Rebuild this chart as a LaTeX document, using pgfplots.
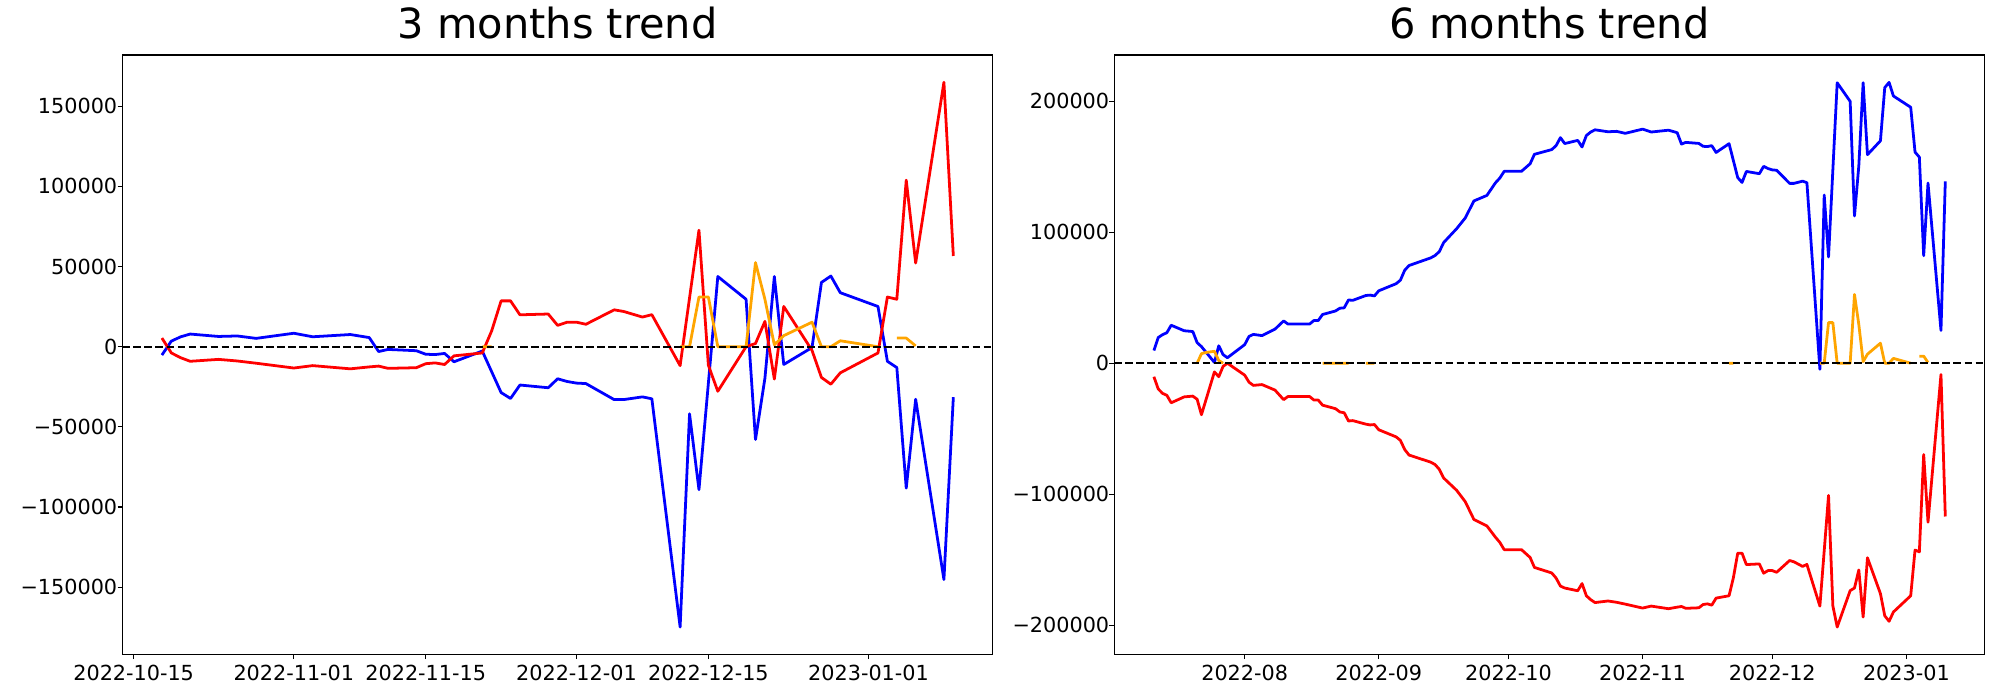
\documentclass[border=0pt]{standalone}
\usepackage{fontspec}
\setmainfont{DejaVu Sans}
\usepackage{pgfplots}
\pgfplotsset{compat=1.18}

\definecolor{mplorange}{RGB}{255,165,0}
\definecolor{mplblue}{RGB}{0,0,255}
\definecolor{mplred}{RGB}{255,0,0}

\pgfplotsset{
  trendaxis/.style={
    scale only axis, width=626.8bp, height=431.5bp,
    anchor=south west,
    axis line style={line width=0.8bp},
    tick align=outside, xtick pos=bottom, ytick pos=left,
    major tick length=3.5bp,
    every tick/.style={black, line width=0.8bp},
    tick label style={font=\fontsize{15}{18}\selectfont, inner sep=0pt},
    xticklabel style={anchor=north, yshift=-4bp},
    yticklabel style={anchor=east},
    scaled ticks=false,
    title style={at={(0.5,1)}, anchor=base, yshift=6bp, inner sep=0pt, font=\fontsize{30}{36}\selectfont},
    unbounded coords=jump,
  },
  trend/.style={line width=2bp, line join=round, mark=none},
  zeroline/.style={black, line width=1.5bp, dash pattern=on 5.55bp off 2.4bp, mark=none},
}

\begin{document}
\begin{tikzpicture}
\path[use as bounding box] (0,0) rectangle (1440bp,504bp);

% ---------------- 3 months trend ----------------
\begin{axis}[trendaxis,
  at={(88.1bp,32.9bp)},
  title={3 months trend},
  xmin=-79.2, xmax=13.2,
  ymin=-191900, ymax=182000,
  xtick={-78,-61,-47,-31,-17,0},
  xticklabels={2022-10-15,2022-11-01,2022-11-15,2022-12-01,2022-12-15,2023-01-01},
  ytick={-150000,-100000,-50000,0,50000,100000,150000},
  yticklabels={−150000,−100000,−50000,0,50000,100000,150000},
]
\addplot[trend, mplblue] coordinates {
(-75,-5200) (-74,3500) (-73,6200) (-72,7900) (-69,6400) (-67,6700) (-65,5200)
(-61,8400) (-59,6200) (-55,7600) (-53,5700) (-52,-3000) (-51,-1700) (-48,-2500)
(-47,-4700) (-46,-4900) (-45,-4200) (-44,-9400) (-41,-2700) (-39,-28600)
(-38,-32300) (-37,-23900) (-34,-25600) (-33,-20000) (-32,-21700) (-31,-22700)
(-30,-23000) (-27,-33000) (-26,-33000) (-24,-31300) (-23,-32500) (-20,-174900)
(-19,-41900) (-18,-89200) (-16,43800) (-13,29600) (-12,-57900) (-11,-19700)
(-10,43800) (-9,-11100) (-6,-500) (-5,40100) (-4,44100) (-3,33700) (1,25100)
(2,-9100) (3,-13000) (4,-88200) (5,-32800) (8,-145300) (9,-31500)
};
\addplot[trend, mplred] coordinates {
(-75,5400) (-74,-3900) (-73,-6900) (-72,-9100) (-69,-7900) (-67,-8900) (-65,-10300)
(-61,-13300) (-59,-11800) (-55,-13800) (-53,-12600) (-52,-12100) (-51,-13500)
(-48,-13100) (-47,-10600) (-46,-10100) (-45,-11100) (-44,-5700) (-41,-3900)
(-40,9900) (-39,28600) (-38,28600) (-37,19900) (-34,20400) (-33,13300) (-32,15300)
(-31,15300) (-30,14000) (-27,23000) (-26,22000) (-24,18500) (-23,20000) (-20,-11800)
(-18,72700) (-17,-11600) (-16,-27800) (-13,0) (-12,2000) (-11,15800) (-10,-20200)
(-9,25100) (-6,-2300) (-5,-19200) (-4,-23400) (-3,-16300) (1,-3900) (2,31000)
(3,29600) (4,103900) (5,52200) (8,165000) (9,56600)
};
\addplot[trend, mplorange] coordinates {
(-41,0) (-40,0) (-39,nan)
(-20,0) (-19,0) (-18,31000) (-17,31000) (-16,0) (-13,0) (-12,52500) (-11,29600)
(-10,1200) (-9,6900) (-6,15300) (-5,0) (-4,0) (-3,3700) (1,0) (2,nan)
(3,5400) (4,5400) (5,500)
};
\addplot[zeroline] coordinates {(-79.2,0) (13.2,0)};
\end{axis}

% ---------------- 6 months trend ----------------
\begin{axis}[trendaxis,
  at={(802.3bp,32.9bp)},
  title={6 months trend},
  xmin=-183.15, xmax=18.15,
  ymin=-222200, ymax=235300,
  xtick={-153,-122,-92,-61,-31,0},
  xticklabels={2022-08,2022-09,2022-10,2022-11,2022-12,2023-01},
  ytick={-200000,-100000,0,100000,200000},
  yticklabels={−200000,−100000,0,100000,200000},
]
\addplot[trend, mplblue] coordinates {
(-174,9700) (-173,19600) (-172,21800) (-171,23300) (-170,29000) (-167,24800)
(-165,24200) (-164,15700) (-163,12700) (-160,600) (-159,13300) (-158,6600)
(-157,4200) (-153,14200) (-152,20500) (-151,22000) (-149,21100) (-146,26000)
(-144,32300) (-143,29900) (-138,29900) (-137,32600) (-136,32600) (-135,37200)
(-132,39900) (-131,42000) (-130,42300) (-129,48300) (-128,48000) (-125,51700)
(-124,52000) (-123,51400) (-122,55300) (-118,60700) (-117,63400) (-116,71000)
(-115,74600) (-110,80400) (-109,82200) (-108,85200) (-107,92100) (-104,102700)
(-102,110900) (-100,123900) (-97,128100) (-95,137800) (-94,141400) (-93,146500)
(-89,146500) (-87,152300) (-86,159500) (-82,163100) (-81,166100) (-80,172200)
(-79,167700) (-76,170100)
(-75,165100) (-74,173800) (-73,176500) (-72,178200) (-69,176700) (-67,177000)
(-65,175500) (-61,178700) (-59,176500) (-55,177900) (-53,176000) (-52,167300)
(-51,168600) (-48,167800) (-47,165600) (-46,165400) (-45,166100) (-44,160900)
(-41,167600) (-39,141700) (-38,138000) (-37,146400) (-34,144700) (-33,150300)
(-32,148600) (-31,147600) (-30,147300) (-27,137300) (-26,137300) (-24,139000)
(-23,137800) (-20,-4600) (-19,128400) (-18,81100) (-16,214100) (-13,199900)
(-12,112400) (-11,150600) (-10,214100) (-9,159200) (-6,169800) (-5,210400)
(-4,214400) (-3,204000) (1,195400) (2,161200) (3,157300) (4,82100) (5,137500)
(8,25000) (9,138800)
};
\addplot[trend, mplred] coordinates {
(-174,-10300) (-173,-19600) (-172,-23000) (-171,-24500) (-170,-30200) (-167,-25700)
(-165,-25100) (-164,-27500) (-163,-39300) (-160,-6600) (-159,-10300) (-158,-2400)
(-157,0) (-153,-9100) (-152,-14500) (-151,-16900) (-149,-16300) (-146,-20500)
(-144,-27800) (-143,-25400) (-138,-25400) (-137,-28100) (-136,-28100) (-135,-32000)
(-132,-34700) (-131,-37200) (-130,-37800) (-129,-44100) (-128,-43800) (-125,-46500)
(-124,-47100) (-123,-46800) (-122,-50800) (-118,-56200) (-117,-58900) (-116,-65900)
(-115,-70100) (-110,-75500) (-109,-77300) (-108,-81000) (-107,-87600) (-104,-97000)
(-102,-105700) (-100,-119300) (-97,-124200) (-95,-132900) (-94,-136800) (-93,-142300)
(-89,-142300) (-87,-148300) (-86,-155900) (-82,-160100) (-81,-164000) (-80,-170100)
(-79,-171600) (-76,-173700)
(-75,-168200) (-74,-177500) (-73,-180500) (-72,-182700) (-69,-181500) (-67,-182500)
(-65,-183900) (-61,-186900) (-59,-185400) (-55,-187400) (-53,-186200) (-52,-185700)
(-51,-187100) (-48,-186700) (-47,-184200) (-46,-183700) (-45,-184700) (-44,-179300)
(-41,-177500) (-40,-163700) (-39,-145000) (-38,-145000) (-37,-153700) (-34,-153200)
(-33,-160300) (-32,-158300) (-31,-158300) (-30,-159600) (-27,-150600) (-26,-151600)
(-24,-155100) (-23,-153600) (-20,-185400) (-18,-100900) (-17,-185200) (-16,-201400)
(-13,-173600) (-12,-171600) (-11,-157800) (-10,-193800) (-9,-148500) (-6,-175900)
(-5,-192800) (-4,-197000) (-3,-189900) (1,-177500) (2,-142600) (3,-144000)
(4,-69700) (5,-121400) (8,-8600) (9,-117000)
};
\addplot[trend, mplorange] coordinates {
(-164,0) (-163,7300) (-162,8200) (-160,9100) (-159,2100) (-158,0) (-157,nan)
(-135,0) (-132,0) (-131,0) (-130,0) (-129,0) (-128,nan)
(-125,0) (-124,0) (-123,0) (-122,nan)
(-41,0) (-40,0) (-39,nan)
(-20,0) (-19,0) (-18,31000) (-17,31000) (-16,0) (-13,0) (-12,52500) (-11,29600)
(-10,1200) (-9,6900) (-6,15300) (-5,0) (-4,0) (-3,3700) (1,0) (2,nan)
(3,5400) (4,5400) (5,500)
};
\addplot[zeroline] coordinates {(-183.15,0) (18.15,0)};
\end{axis}
\end{tikzpicture}
\end{document}
